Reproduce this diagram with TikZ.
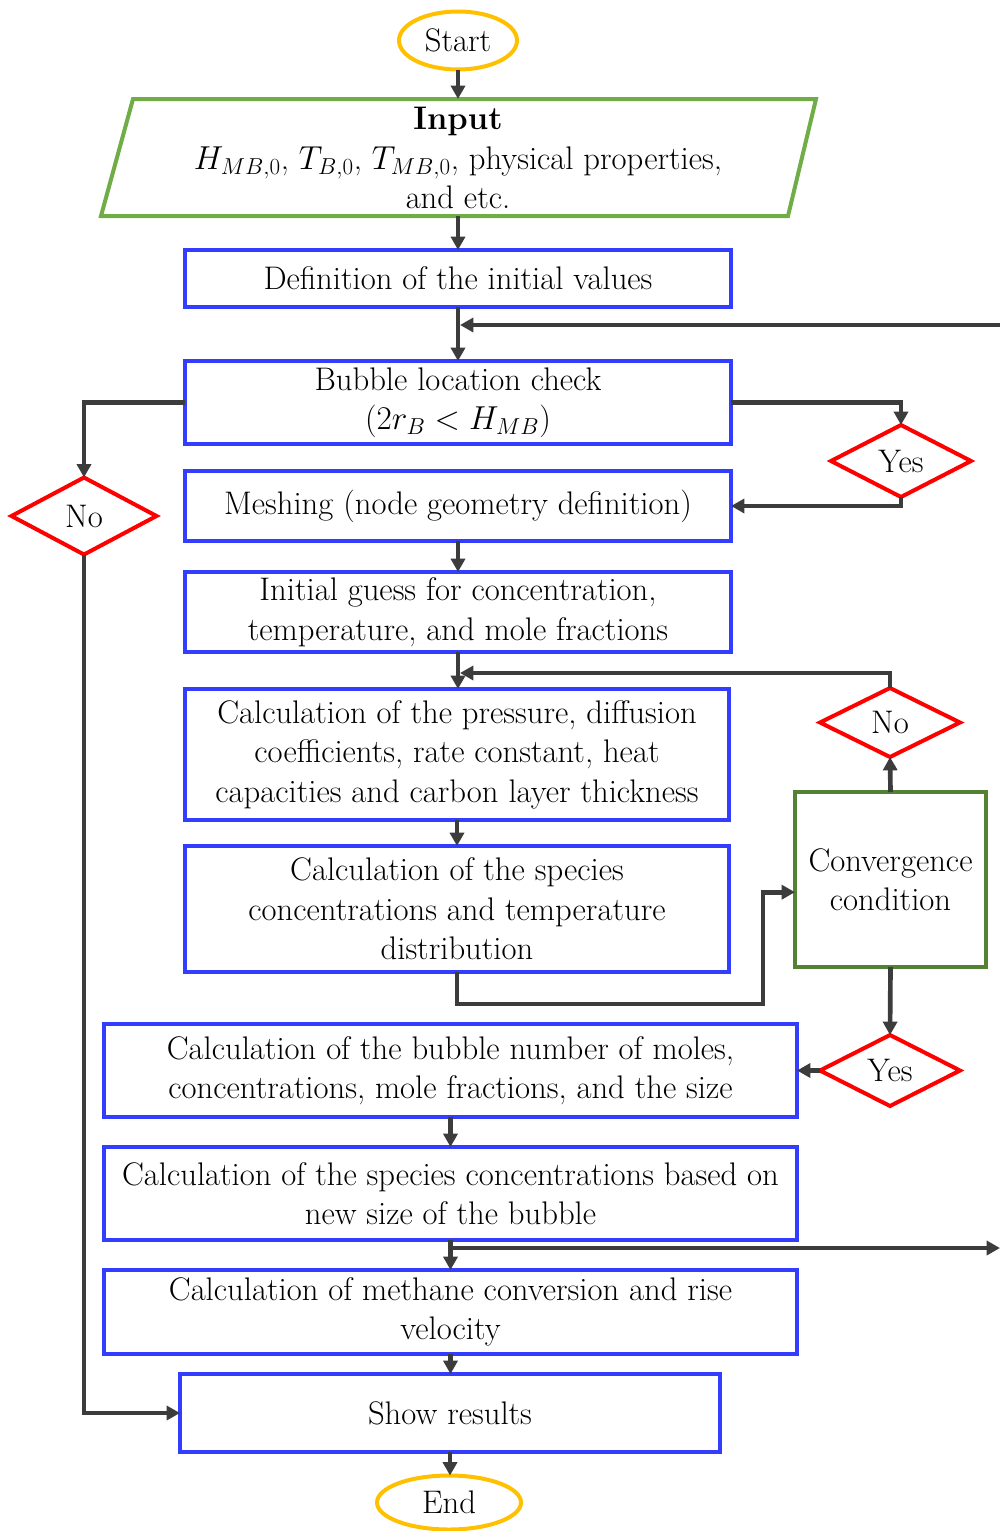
\documentclass[tikz,border=0pt]{standalone}
\usepackage{fontspec}
\usetikzlibrary{shapes.geometric,arrows.meta,calc}
\newdimen\pxu \pxu=0.75pt
\definecolor{boxblue}{RGB}{51,61,255}
\definecolor{paragreen}{RGB}{112,173,71}
\definecolor{convgreen}{RGB}{84,130,53}
\definecolor{ovalorange}{RGB}{255,192,0}
\definecolor{diared}{RGB}{255,0,0}
\definecolor{linegray}{RGB}{60,60,60}
\begin{document}
\begin{tikzpicture}[x=0.75pt,y=-0.75pt,
  every node/.style={font=\rmfamily\addfontfeatures{FakeBold=0.4}\fontsize{24.5}{29.6}\selectfont, align=center, inner sep=0pt, outer sep=0pt},
  bluebox/.style={draw=boxblue, line width=3pt, rectangle},
  convbox/.style={draw=convgreen, line width=3pt, rectangle},
  oval/.style={draw=ovalorange, line width=3pt, ellipse},
  decision/.style={draw=diared, line width=3pt, diamond, aspect=2},
  arr/.style={draw=linegray, line width=3.5pt, -{Triangle[length=10pt,width=10.5pt]}}
]
\useasboundingbox (0,0) rectangle (1000,1531);

% terminals
\node[oval, minimum width=118\pxu, minimum height=58\pxu] (start) at (458,40.5) {Start};
\node[oval, minimum width=144\pxu, minimum height=54\pxu] (end) at (449,1502.5) {End};

% input parallelogram
\draw[draw=paragreen, line width=3pt] (133,99) -- (816,99) -- (788,216) -- (101,216) -- cycle;
\node (input) at (458,158) {\textbf{Input}\\ $H_{MB,0}$, $T_{B,0}$, $T_{MB,0}$, physical properties,\\ and etc.};
\coordinate (inTop) at (458,99);
\coordinate (inBot) at (458,216);

% process boxes
\node[bluebox, minimum width=546\pxu, minimum height=57\pxu] (def) at (458,278.5) {Definition of the initial values};
\node[bluebox, minimum width=546\pxu, minimum height=83\pxu] (bub) at (458,402.5) {Bubble location check\\ ($2r_B < H_{MB}$)};
\node[bluebox, minimum width=546\pxu, minimum height=70\pxu] (mesh) at (458,506) {Meshing (node geometry definition)};
\node[bluebox, minimum width=546\pxu, minimum height=80\pxu] (guess) at (458,612) {Initial guess for concentration,\\ temperature, and mole fractions};
\node[bluebox, minimum width=544\pxu, minimum height=131\pxu] (press) at (457,754.5) {Calculation of the pressure, diffusion\\ coefficients, rate constant, heat\\ capacities and carbon layer thickness};
\node[bluebox, minimum width=544\pxu, minimum height=126\pxu] (spec) at (457,909) {Calculation of the species\\ concentrations and temperature\\ distribution};
\node[convbox, minimum width=191\pxu, minimum height=175\pxu] (conv) at (890.5,879.5) {Convergence\\ condition};
\node[bluebox, minimum width=693\pxu, minimum height=93\pxu] (bubble) at (450.5,1070.5) {Calculation of the bubble number of moles,\\ concentrations, mole fractions, and the size};
\node[bluebox, minimum width=693\pxu, minimum height=93\pxu] (based) at (450.5,1193.5) {Calculation of the species concentrations based on\\ new size of the bubble};
\node[bluebox, minimum width=693\pxu, minimum height=84\pxu] (meth) at (450.5,1312) {Calculation of methane conversion and rise\\ velocity};
\node[bluebox, minimum width=540\pxu, minimum height=78\pxu] (show) at (450,1413) {Show results};

% decisions
\node[decision, minimum width=140\pxu, minimum height=72\pxu] (yes1) at (901,461) {Yes};
\node[decision, minimum width=145\pxu, minimum height=77\pxu] (no1) at (84,516) {No};
\node[decision, minimum width=140\pxu, minimum height=69\pxu] (no2) at (890,722.5) {No};
\node[decision, minimum width=140\pxu, minimum height=71\pxu] (yes2) at (890,1070.5) {Yes};

% helper coordinates
\coordinate (rightA) at (1000,325);
\coordinate (jA) at (460,325);
\coordinate (jB) at (460,673);
\coordinate (k1) at (763,1004);
\coordinate (jC) at (451,1248);
\coordinate (rightB) at (1000,1248);

% connectors
\draw[arr] (start.south) -- (inTop);
\draw[arr] (inBot) -- (def.north);
\draw[arr] (def.south) -- (bub.north);
\draw[arr] (rightA) -- (jA);
\draw[arr] (bub.east) -| (yes1.north);
\draw[arr] (yes1.south) |- (mesh.east);
\draw[arr] (bub.west) -| (no1.north);
\draw[arr] (no1.south) |- (show.west);
\draw[arr] (mesh.south) -- (guess.north);
\draw[arr] (guess.south) -- (guess.south |- press.north);
\draw[arr] (no2.north) |- (jB);
\draw[arr] (press.south) -- (press.south |- spec.north);
\draw[arr] (spec.south) |- (k1) |- ([yshift=-9.5pt]conv.west);
\draw[arr] (conv.north) -- (no2.south);
\draw[arr] (conv.south) -- (yes2.north);
\draw[arr] (yes2.west) -- (bubble.east);
\draw[arr] (bubble.south) -- (based.north);
\draw[arr] (based.south) -- (meth.north);
\draw[arr] (jC) -- (rightB);
\draw[arr] (meth.south) -- (meth.south |- show.north);
\draw[arr] (show.south) -- (show.south |- end.north);
\end{tikzpicture}
\end{document}
